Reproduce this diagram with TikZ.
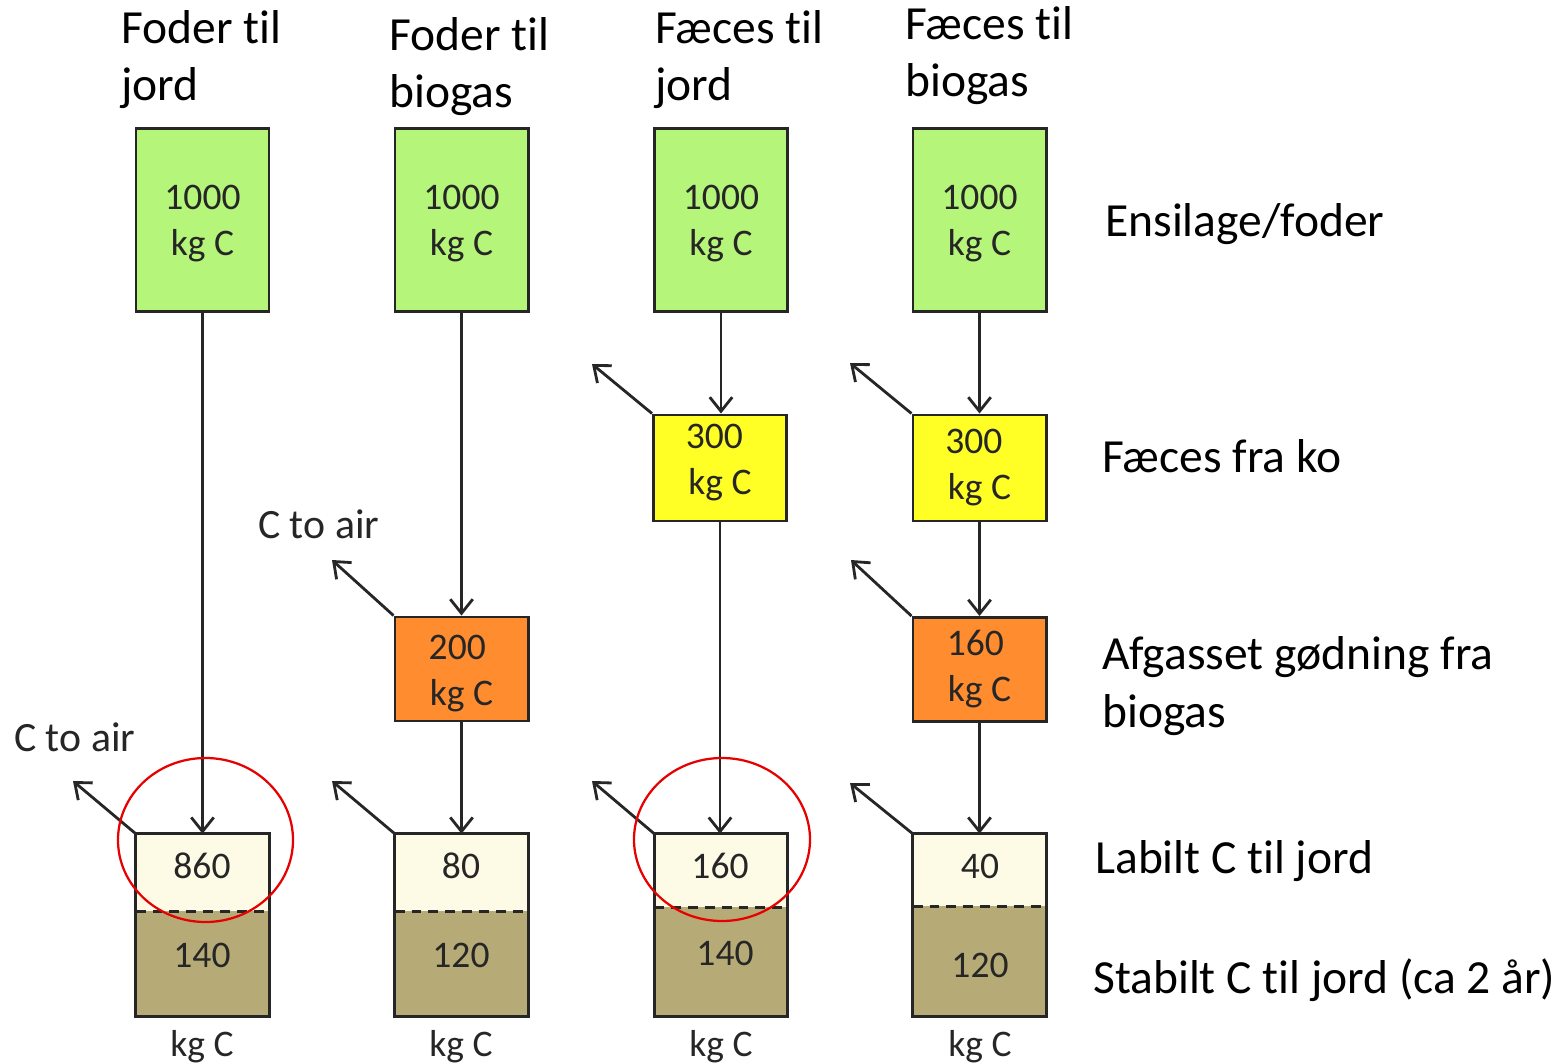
\documentclass[tikz,border=0pt]{standalone}
\usepackage{fontspec}
\setmainfont{Carlito}[Ligatures={NoCommon}]
\usetikzlibrary{arrows.meta}

\definecolor{ink}{HTML}{262626}
\definecolor{feedgreen}{HTML}{B5F57A}
\definecolor{dungyellow}{HTML}{FFFF26}
\definecolor{digorange}{HTML}{FF8C2E}
\definecolor{labcream}{HTML}{FDFBE6}
\definecolor{stabkhaki}{HTML}{B6AB76}
\definecolor{ringred}{HTML}{E60000}

\tikzset{
  pool/.style={draw=ink, line width=2.1pt, minimum width=3.325cm, inner sep=0pt,
    align=center, text=ink, font=\fontsize{26.7pt}{32.7pt}\selectfont},
  feedbox/.style={pool, fill=feedgreen, minimum height=4.55cm},
  dungbox/.style={pool, fill=dungyellow, minimum height=2.65cm},
  digbox/.style={pool, fill=digorange, minimum height=2.6cm},
  soilpart/.style={inner sep=0pt, minimum width=3.325cm},
  soilnum/.style={inner sep=0pt, text=ink, font=\fontsize{26.7pt}{32.7pt}\selectfont},
  head/.style={inner sep=0pt, anchor=base west, align=left, text=black,
    font=\fontsize{33.8pt}{40.6pt}\selectfont},
  airtext/.style={inner sep=0pt, anchor=base west, text=ink,
    font=\fontsize{29.7pt}{35pt}\selectfont},
  flow/.style={draw=ink, line width=2pt,
    -{Straight Barb[length=10pt,width=16pt,line width=2pt]}},
  ring/.style={draw=ringred, line width=1.6pt}
}
% strut that pushes a two-line box text slightly downwards
\newcommand{\lowerstrut}{\rule{0pt}{23pt}}
% depth that lifts a two-line box text slightly upwards
\newcommand{\raisestrut}{\rule[-12pt]{0pt}{12pt}}

\begin{document}
\begin{tikzpicture}[x=0.025cm, y=-0.025cm]
\useasboundingbox (0,0) rectangle (1564,1064);

% column headings (anchored at the baseline of their last line)
\node[head] (h1) at (121,101) {Foder til\\jord};
\node[head] (h2) at (389,108) {Foder til\\biogas};
\node[head] (h3) at (655,101) {Fæces til\\jord};
\node[head] (h4) at (905,97) {Fæces til\\biogas};

% row labels
\node[head] (r1) at (1105,236) {Ensilage/foder};
\node[head] (r2) at (1102,472) {Fæces fra ko};
\node[head] (r3) at (1102,727) {Afgasset gødning fra\\biogas};
\node[head] (r4) at (1095,873) {Labilt C til jord};
\node[head] (r5) at (1093,993) {Stabilt C til jord (ca 2 år)};

% feed pools
\node[feedbox] (g1) at (202.5,220) {\lowerstrut 1000\\kg C};
\node[feedbox] (g2) at (461.5,220) {\lowerstrut 1000\\kg C};
\node[feedbox] (g3) at (721,220) {\lowerstrut 1000\\kg C};
\node[feedbox] (g4) at (979.5,220) {\lowerstrut 1000\\kg C};

% faeces pools
\node[dungbox] (y3) at (720,468) {300\kern8pt\\kg C\raisestrut};
\node[dungbox] (y4) at (979.5,468) {300\kern8pt\\kg C};

% digestate pools
\node[digbox] (o2) at (461.5,669) {\rule{0pt}{24pt}200\kern6pt\\kg C};
\node[digbox] (o4) at (979.5,669.5) {160\kern6pt\\kg C};

% soil pools: labile part over stable part
\node[soilpart, fill=labcream,  minimum height=1.925cm] (l1) at (202.5,872.5) {};
\node[soilpart, fill=stabkhaki, minimum height=2.625cm] (s1) at (202.5,963.5) {};
\node[soilpart, fill=labcream,  minimum height=1.925cm] (l2) at (461.5,872.5) {};
\node[soilpart, fill=stabkhaki, minimum height=2.625cm] (s2) at (461.5,963.5) {};
\node[soilpart, fill=labcream,  minimum height=1.825cm] (l3) at (721,870.5) {};
\node[soilpart, fill=stabkhaki, minimum height=2.725cm] (s3) at (721,961.5) {};
\node[soilpart, fill=labcream,  minimum height=1.8cm]   (l4) at (979.5,870) {};
\node[soilpart, fill=stabkhaki, minimum height=2.75cm]  (s4) at (979.5,961) {};

\foreach \c in {1,2,3,4}{
  \draw[ink, line width=2.1pt] (l\c.north west) rectangle (s\c.south east);
  \draw[ink, line width=1.8pt, dash pattern=on 7pt off 5pt] (l\c.south west) -- (l\c.south east);
}

\node[soilnum] (n1a) at (202,866) {860};
\node[soilnum] (n1b) at (202,955) {140};
\node[soilnum] (n2a) at (461,866) {80};
\node[soilnum] (n2b) at (461,955) {120};
\node[soilnum] (n3a) at (720,866) {160};
\node[soilnum] (n3b) at (725,953) {140};
\node[soilnum] (n4a) at (980,866) {40};
\node[soilnum] (n4b) at (980,965) {120};

\foreach \c/\x in {1/202,2/461,3/721,4/980}{
  \node[soilnum, anchor=base] (k\c) at (\x,1056) {kg C};
}

% carbon flows down the chains
\draw[flow] (g1.south) -- (g1.south |- l1.north);
\draw[flow] (g2.south) -- (g2.south |- o2.north);
\draw[flow] (o2.south) -- (o2.south |- l2.north);
\draw[flow] (g3.south) -- (g3.south |- y3.north);
\draw[flow] (y3.south) -- (y3.south |- l3.north);
\draw[flow] (g4.south) -- (g4.south |- y4.north);
\draw[flow] (y4.south) -- (y4.south |- o4.north);
\draw[flow] (o4.south) -- (o4.south |- l4.north);

% carbon lost to the air
\coordinate (a1) at (73,781);
\coordinate (a2) at (332,560);
\coordinate (a3) at (332,781);
\coordinate (a4) at (592,364);
\coordinate (a5) at (592,781);
\coordinate (a6) at (850,363);
\coordinate (a7) at (851,560);
\coordinate (a8) at (850,783);
\draw[flow] (l1.north west) -- (a1);
\draw[flow] (o2.north west) -- (a2);
\draw[flow] (l2.north west) -- (a3);
\draw[flow] (y3.north west) -- (a4);
\draw[flow] (l3.north west) -- (a5);
\draw[flow] (y4.north west) -- (a6);
\draw[flow] (o4.north west) -- (a7);
\draw[flow] (l4.north west) -- (a8);

\node[airtext] (air1) at (258,538) {C to air};
\node[airtext] (air2) at (14,751) {C to air};

% highlight rings
\draw[ring] (205.5,840) ellipse [x radius=87.5, y radius=82];
\draw[ring] (722,839.5) ellipse [x radius=88, y radius=81.5];
\end{tikzpicture}
\end{document}
